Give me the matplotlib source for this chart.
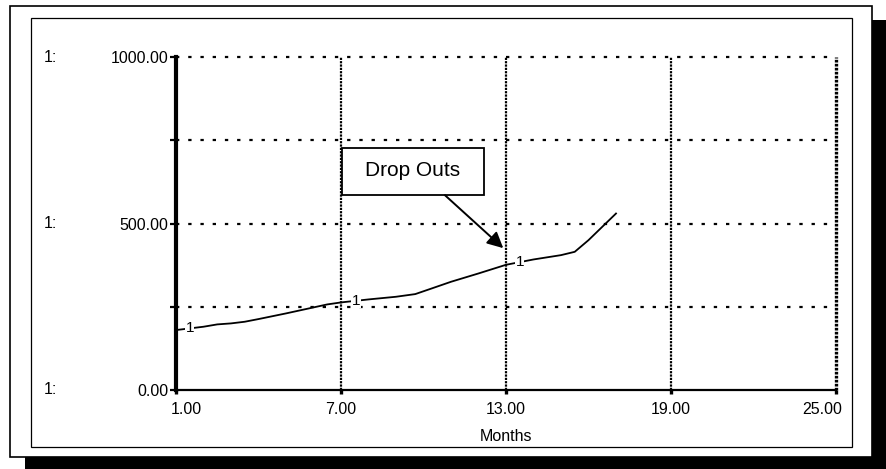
import matplotlib
matplotlib.use("Agg")
import matplotlib.pyplot as plt
from matplotlib.patches import Rectangle
from matplotlib.transforms import ScaledTranslation

plt.rcParams["font.family"] = ["Liberation Sans", "DejaVu Sans"]

# series
months = [1.0, 1.5, 2.0, 2.5, 3.0, 3.5, 4.0, 5.0, 6.0, 6.5, 7.0, 8.0, 9.0, 9.7,
          10.3, 11.0, 12.0, 13.0, 14.0, 15.0, 15.5, 16.0, 16.5, 17.0]
drop_outs = [180, 185, 190, 197, 200, 205, 213, 230, 248, 257, 263, 272, 280, 288,
             305, 325, 350, 376, 392, 405, 415, 450, 490, 530]
label_months = [1.5, 7.55, 13.5]

x_ticks = [1, 7, 13, 19, 25]
y_ticks = [0, 250, 500, 750, 1000]
y_labels = {0: "0.00", 500: "500.00", 1000: "1000.00"}

W, H = 886, 469
fig = plt.figure(figsize=(W / 100, H / 100), dpi=100)


def box(x0, y0, x1, y1, **kw):
    r = Rectangle((x0 / W, 1 - y1 / H), (x1 - x0) / W, (y1 - y0) / H,
                  transform=fig.transFigure, zorder=-10, **kw)
    fig.patches.append(r)


# frame with drop shadow
box(25, 20, 886, 469, facecolor="black", edgecolor="none")
box(10, 6, 872, 457, facecolor="white", edgecolor="black", lw=1.2)
box(31, 18, 852, 447, facecolor="white", edgecolor="black", lw=0.9)

ax = fig.add_axes([176 / W, 1 - 390 / H, (836 - 176) / W, (390 - 57) / H])
ax.set_facecolor("none")
ax.set_xlim(1, 25)
ax.set_ylim(0, 1000)

for s in ["top", "right"]:
    ax.spines[s].set_visible(False)
ax.spines["left"].set_linewidth(3)
ax.spines["bottom"].set_linewidth(1.6)

# grid
for y in y_ticks[1:]:
    ax.axhline(y, color="black", lw=1.6, ls=(0, (1.5, 4.0)), clip_on=False, zorder=1)
for x in x_ticks[1:-1]:
    ax.axvline(x, color="black", lw=1.6, ls=(0, (1.0, 0.5)), zorder=1)
ax.axvline(25, color="black", lw=2.4, ls=(0, (0.8, 0.4)), clip_on=False, zorder=1)

ax.set_xticks(x_ticks)
ax.set_xticklabels([f"{x:.2f}" for x in x_ticks], fontsize=11.5)
ax.set_yticks(y_ticks)
ax.set_yticklabels([y_labels.get(y, "") for y in y_ticks], fontsize=11.5)
ax.tick_params(axis="y", length=4.5, width=1.6, pad=1)
ax.tick_params(axis="x", length=3, width=2.4, pad=6)
xt = ax.get_xticklabels()
xt[0].set_ha("left")
xt[0].set_transform(xt[0].get_transform() + ScaledTranslation(-5 / 100, 0, fig.dpi_scale_trans))
xt[-1].set_ha("right")
xt[-1].set_transform(xt[-1].get_transform() + ScaledTranslation(6 / 100, 0, fig.dpi_scale_trans))

for y in y_labels:
    fig.text(44 / W, y / 1000 * (390 - 57) / H + 1 - 390 / H, "1:",
             fontsize=11.5, va="center", ha="left")

ax.set_xlabel("Months", fontsize=11.5, labelpad=8)

ax.plot(months, drop_outs, color="black", lw=1.3, zorder=3)
for m in label_months:
    v = None
    for i in range(len(months) - 1):
        if months[i] <= m <= months[i + 1]:
            t = (m - months[i]) / (months[i + 1] - months[i])
            v = drop_outs[i] + t * (drop_outs[i + 1] - drop_outs[i])
    ax.text(m, v, "1", fontsize=11, ha="center", va="center", zorder=4,
            bbox=dict(facecolor="white", edgecolor="none", pad=0.3))

# annotation box and arrow
ax.add_patch(Rectangle((7.04, 585), 12.2 - 7.04, 727 - 585, facecolor="white",
                       edgecolor="black", lw=1.3, zorder=5))
ax.text((7.04 + 12.2) / 2, 660, "Drop Outs", fontsize=15, ha="center",
        va="center", zorder=6)
ax.annotate("", xy=(12.9, 426), xytext=(10.78, 585),
            arrowprops=dict(arrowstyle="-|>", color="black", lw=1.4,
                            mutation_scale=24, shrinkA=0, shrinkB=0), zorder=5)

fig.savefig("out.png", dpi=100)
